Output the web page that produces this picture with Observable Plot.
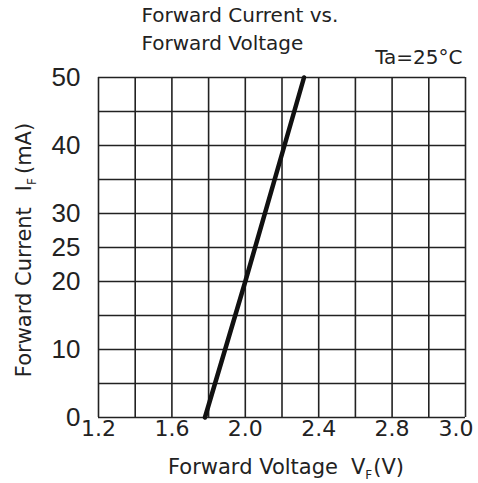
<!DOCTYPE html>
<html>
<head>
<meta charset="utf-8">
<script src="https://cdn.jsdelivr.net/npm/d3@7"></script>
<script src="https://cdn.jsdelivr.net/npm/@observablehq/plot@0.6"></script>
<style>
  html, body { margin: 0; padding: 0; background: #fff; }
  #chart svg { display: block; }
</style>
</head>
<body>
<div id="chart"></div>
<script>
// Data
const forwardVoltage = [1.78, 2.0, 2.32];   // V
const forwardCurrent = [0, 20, 50];         // mA

// Grid (one line every 0.2 V and every 5 mA)
const xGrid = [1.2, 1.4, 1.6, 1.8, 2.0, 2.2, 2.4, 2.6, 2.8, 3.0, 3.2];
const yGrid = [0, 5, 10, 15, 20, 25, 30, 35, 40, 45, 50];

// Tick labels
const xTickValues = [1.2, 1.6, 2.0, 2.4, 2.8];
const xTickLabels = ["1.2", "1.6", "2.0", "2.4", "2.8"];
const xLastTickValue = [3.2];
const xLastTickLabel = ["3.0"];
const yTickValues = [0, 10, 20, 25, 30, 40, 50];
const yTickLabels = ["0", "10", "20", "25", "30", "40", "50"];

const titleLines = ["Forward Current vs.", "Forward Voltage"];
const condition = "Ta=25°C";

const points = forwardVoltage.map((v, i) => ({vf: v, ifw: forwardCurrent[i]}));

const ink = "#222";
const font = "DejaVu Sans, sans-serif";

const svg = Plot.plot({
  width: 478,
  height: 483,
  marginTop: 77,
  marginBottom: 66,
  marginLeft: 98,
  marginRight: 13,
  style: {fontFamily: font, background: "#fff", color: ink},
  x: {domain: [1.2, 3.2], axis: null},
  y: {domain: [0, 50], axis: null},
  marks: [
    Plot.ruleX(xGrid, {x: d => d, stroke: "#222", strokeWidth: 1.6}),
    Plot.ruleY(yGrid, {y: d => d, stroke: "#222", strokeWidth: 1.6}),
    Plot.line(points, {x: "vf", y: "ifw", stroke: "#111", strokeWidth: 4.5}),
    Plot.text(xTickValues, {x: d => d, text: (d, i) => xTickLabels[i], frameAnchor: "bottom", dy: 18, fontSize: 22, fill: ink}),
    Plot.text(xLastTickValue, {x: d => d, text: (d, i) => xLastTickLabel[i], frameAnchor: "bottom", dy: 18, dx: 8, textAnchor: "end", fontSize: 22, fill: ink}),
    Plot.text(yTickValues, {y: d => d, text: (d, i) => yTickLabels[i], frameAnchor: "left", dx: -18, textAnchor: "end", fontSize: 26, fontFamily: "Liberation Sans, sans-serif", fill: ink}),
    Plot.text([titleLines.join("\n")], {frameAnchor: "top-left", dx: 43, dy: -28, textAnchor: "start", lineAnchor: "bottom", lineHeight: 1.4, fontSize: 20, fill: ink}),
    Plot.text([condition], {frameAnchor: "top-right", dx: -3, dy: -14, textAnchor: "end", lineAnchor: "bottom", fontSize: 20, fill: ink})
  ]
});

// Axis titles with subscripts
const s = d3.select(svg);
const xl = s.append("text")
  .attr("x", 286).attr("y", 474)
  .attr("text-anchor", "middle")
  .attr("font-family", font).attr("font-size", 21).attr("fill", ink);
xl.append("tspan").text("Forward Voltage");
xl.append("tspan").attr("dx", 13).text("V");
xl.append("tspan").attr("dy", 5).attr("font-size", 12).text("F");
xl.append("tspan").attr("dy", -5).attr("dx", 1).text("(V)");

const yl = s.append("text")
  .attr("transform", "translate(31,250) rotate(-90)")
  .attr("text-anchor", "middle")
  .attr("font-family", font).attr("font-size", 21).attr("fill", ink);
yl.append("tspan").text("Forward Current");
yl.append("tspan").attr("dx", 16).text("I");
yl.append("tspan").attr("dy", 5).attr("font-size", 12).text("F");
yl.append("tspan").attr("dy", -5).attr("dx", 4).text("(mA)");

document.getElementById("chart").appendChild(svg);
</script>
</body>
</html>
